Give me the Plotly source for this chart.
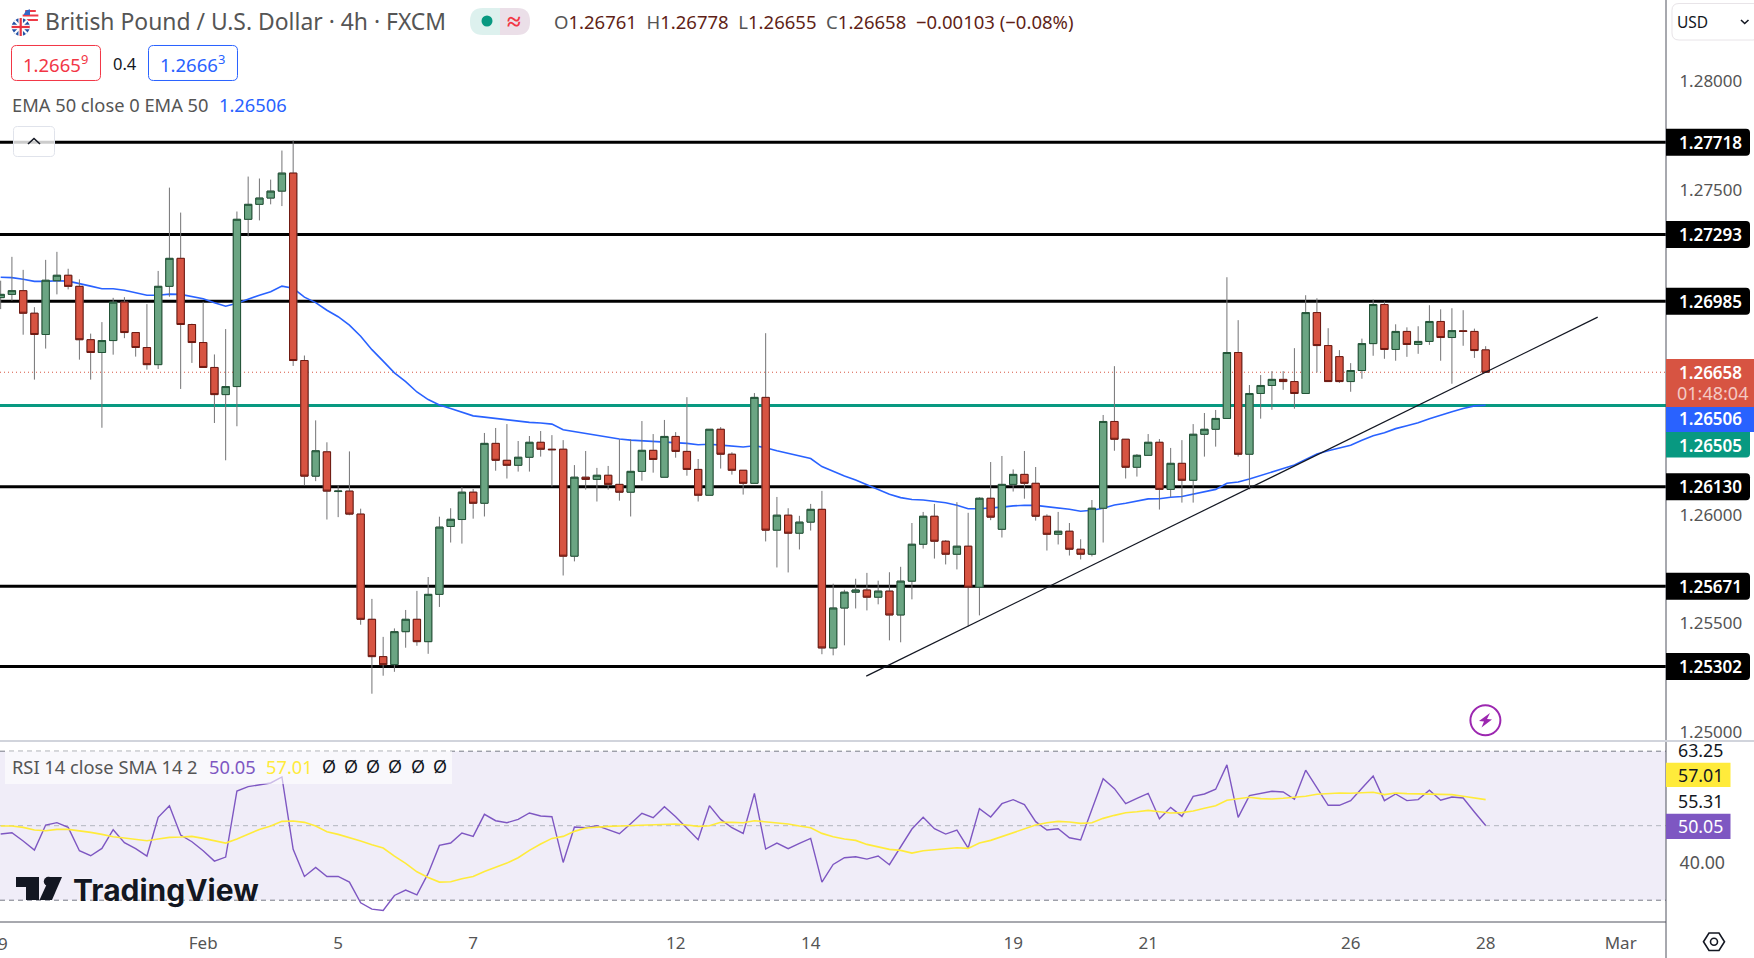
import plotly.graph_objects as go

opens = [1.27002, 1.27017, 1.27034, 1.26930, 1.26832, 1.27080, 1.27105, 1.27054, 1.26808, 1.26749, 1.26804, 1.26981, 1.26841, 1.26772, 1.26693, 1.27054, 1.27183, 1.26878, 1.26795, 1.26680,
         1.26555, 1.26592, 1.27363, 1.27432, 1.27461, 1.27493, 1.27576, 1.26712, 1.26179, 1.26291, 1.26108, 1.26110, 1.26004, 1.25519, 1.25347, 1.25310, 1.25462, 1.25519, 1.25416, 1.25634,
         1.25947, 1.25979, 1.26105, 1.26054, 1.26330, 1.26252, 1.26229, 1.26266, 1.26335, 1.26303, 1.26303, 1.25810, 1.26174, 1.26164, 1.26183, 1.26141, 1.26105, 1.26201, 1.26298, 1.26174,
         1.26362, 1.26293, 1.26210, 1.26091, 1.26395, 1.26280, 1.26206, 1.26146, 1.26542, 1.25930, 1.25999, 1.25916, 1.25967, 1.26026, 1.25387, 1.25571, 1.25644, 1.25654, 1.25621, 1.25649,
         1.25539, 1.25695, 1.25865, 1.25994, 1.25879, 1.25819, 1.25856, 1.25667, 1.26077, 1.25934, 1.26141, 1.26187, 1.26146, 1.25994, 1.25911, 1.25925, 1.25842, 1.25819, 1.26031, 1.26431,
         1.26349, 1.26220, 1.26275, 1.26335, 1.26118, 1.26238, 1.26160, 1.26372, 1.26395, 1.26445, 1.26749, 1.26280, 1.26560, 1.26597, 1.26625, 1.26615, 1.26560, 1.26933, 1.26781, 1.26730,
         1.26615, 1.26666, 1.26790, 1.26970, 1.26763, 1.26846, 1.26786, 1.26800, 1.26892, 1.26818, 1.26849, 1.26846, 1.26761]
highs = [1.27080, 1.27190, 1.27130, 1.26958, 1.27176, 1.27213, 1.27135, 1.27086, 1.26836, 1.26889, 1.27001, 1.27004, 1.26841, 1.26972, 1.27125, 1.27509, 1.27394, 1.26882, 1.26983, 1.26740,
         1.26857, 1.27399, 1.27560, 1.27551, 1.27546, 1.27680, 1.27726, 1.26735, 1.26436, 1.26335, 1.26135, 1.26293, 1.26029, 1.25613, 1.25438, 1.25477, 1.25562, 1.25650, 1.25714, 1.25992,
         1.26031, 1.26129, 1.26120, 1.26378, 1.26401, 1.26419, 1.26341, 1.26364, 1.26387, 1.26368, 1.26345, 1.26230, 1.26295, 1.26217, 1.26226, 1.26349, 1.26349, 1.26433, 1.26373, 1.26438,
         1.26382, 1.26543, 1.26258, 1.26395, 1.26405, 1.26289, 1.26206, 1.26562, 1.26838, 1.26083, 1.26031, 1.25996, 1.26051, 1.26111, 1.25683, 1.25655, 1.25706, 1.25733, 1.25697, 1.25736,
         1.25761, 1.25963, 1.26014, 1.26051, 1.25884, 1.26059, 1.26010, 1.26082, 1.26244, 1.26272, 1.26210, 1.26295, 1.26221, 1.26003, 1.26014, 1.25963, 1.25888, 1.26069, 1.26461, 1.26686,
         1.26349, 1.26281, 1.26373, 1.26350, 1.26309, 1.26345, 1.26419, 1.26470, 1.26484, 1.27096, 1.26898, 1.26599, 1.26645, 1.26663, 1.26663, 1.26769, 1.27013, 1.26999, 1.26861, 1.26760,
         1.26700, 1.26813, 1.26993, 1.26984, 1.26879, 1.26865, 1.26870, 1.26967, 1.26948, 1.26953, 1.26944, 1.26859, 1.26778]
lows = [1.26949, 1.26988, 1.26831, 1.26624, 1.26767, 1.27017, 1.27040, 1.26716, 1.26624, 1.26402, 1.26739, 1.26815, 1.26730, 1.26670, 1.26673, 1.27006, 1.26581, 1.26701, 1.26680, 1.26424,
        1.26252, 1.26409, 1.27284, 1.27358, 1.27432, 1.27424, 1.26687, 1.26137, 1.26156, 1.25979, 1.25990, 1.25999, 1.25494, 1.25176, 1.25259, 1.25277, 1.25388, 1.25397, 1.25360, 1.25576,
        1.25873, 1.25868, 1.25983, 1.25993, 1.26204, 1.26168, 1.26200, 1.26200, 1.26269, 1.26131, 1.25721, 1.25786, 1.26117, 1.26062, 1.26117, 1.26066, 1.25993, 1.26158, 1.26195, 1.26174,
        1.26264, 1.26181, 1.26062, 1.26091, 1.26214, 1.26186, 1.26094, 1.26146, 1.25878, 1.25758, 1.25735, 1.25841, 1.25928, 1.25358, 1.25353, 1.25399, 1.25569, 1.25560, 1.25588, 1.25422,
        1.25413, 1.25611, 1.25845, 1.25799, 1.25772, 1.25749, 1.25486, 1.25537, 1.25976, 1.25896, 1.26108, 1.26075, 1.25974, 1.25836, 1.25864, 1.25813, 1.25795, 1.25809, 1.25873, 1.26296,
        1.26168, 1.26177, 1.26275, 1.26025, 1.26083, 1.26057, 1.26057, 1.26269, 1.26315, 1.26445, 1.26269, 1.26118, 1.26444, 1.26485, 1.26577, 1.26490, 1.26560, 1.26657, 1.26615, 1.26609,
        1.26568, 1.26628, 1.26734, 1.26720, 1.26711, 1.26729, 1.26743, 1.26784, 1.26711, 1.26605, 1.26780, 1.26724, 1.26655]
closes = [1.27017, 1.27034, 1.26930, 1.26832, 1.27082, 1.27105, 1.27054, 1.26808, 1.26749, 1.26804, 1.26981, 1.26841, 1.26772, 1.26693, 1.27054, 1.27183, 1.26878, 1.26795, 1.26680, 1.26555,
          1.26592, 1.27363, 1.27432, 1.27461, 1.27493, 1.27576, 1.26712, 1.26179, 1.26296, 1.26110, 1.26110, 1.26004, 1.25519, 1.25347, 1.25310, 1.25462, 1.25519, 1.25416, 1.25634, 1.25944,
          1.25980, 1.26105, 1.26054, 1.26330, 1.26252, 1.26229, 1.26266, 1.26335, 1.26303, 1.26301, 1.25810, 1.26174, 1.26164, 1.26183, 1.26141, 1.26105, 1.26201, 1.26298, 1.26256, 1.26362,
          1.26293, 1.26210, 1.26091, 1.26395, 1.26280, 1.26206, 1.26146, 1.26542, 1.25930, 1.25999, 1.25916, 1.25967, 1.26026, 1.25387, 1.25571, 1.25644, 1.25654, 1.25621, 1.25649, 1.25539,
          1.25695, 1.25865, 1.25994, 1.25879, 1.25819, 1.25856, 1.25667, 1.26077, 1.25990, 1.26141, 1.26187, 1.26146, 1.25994, 1.25911, 1.25925, 1.25842, 1.25819, 1.26031, 1.26431, 1.26349,
          1.26220, 1.26275, 1.26335, 1.26118, 1.26238, 1.26160, 1.26372, 1.26395, 1.26445, 1.26749, 1.26280, 1.26560, 1.26597, 1.26625, 1.26615, 1.26560, 1.26933, 1.26781, 1.26615, 1.26615,
          1.26666, 1.26790, 1.26970, 1.26763, 1.26846, 1.26786, 1.26800, 1.26892, 1.26818, 1.26850, 1.26846, 1.26758, 1.26658]
ema50 = [1.27096, 1.27094, 1.27087, 1.27077, 1.27077, 1.27080, 1.27078, 1.27068, 1.27055, 1.27043, 1.27043, 1.27036, 1.27025, 1.27013, 1.27013, 1.27018, 1.27017, 1.27008, 1.26997, 1.26978,
         1.26962, 1.26976, 1.26995, 1.27013, 1.27029, 1.27055, 1.27045, 1.27004, 1.26979, 1.26944, 1.26914, 1.26875, 1.26824, 1.26762, 1.26709, 1.26655, 1.26615, 1.26567, 1.26532, 1.26507,
         1.26491, 1.26474, 1.26457, 1.26451, 1.26445, 1.26436, 1.26430, 1.26427, 1.26424, 1.26419, 1.26393, 1.26384, 1.26376, 1.26368, 1.26359, 1.26350, 1.26345, 1.26342, 1.26339, 1.26339,
         1.26335, 1.26330, 1.26324, 1.26326, 1.26322, 1.26318, 1.26313, 1.26319, 1.26310, 1.26296, 1.26284, 1.26270, 1.26260, 1.26223, 1.26200, 1.26180, 1.26161, 1.26138, 1.26118, 1.26095,
         1.26080, 1.26071, 1.26069, 1.26062, 1.26056, 1.26045, 1.26029, 1.26029, 1.26031, 1.26036, 1.26042, 1.26045, 1.26044, 1.26039, 1.26034, 1.26026, 1.26017, 1.26022, 1.26031, 1.26046,
         1.26054, 1.26063, 1.26074, 1.26075, 1.26082, 1.26085, 1.26095, 1.26106, 1.26118, 1.26146, 1.26152, 1.26166, 1.26181, 1.26198, 1.26214, 1.26230, 1.26256, 1.26281, 1.26296, 1.26307,
         1.26321, 1.26344, 1.26365, 1.26379, 1.26398, 1.26411, 1.26425, 1.26444, 1.26461, 1.26476, 1.26491, 1.26503, 1.26506]
rsi = [47.76, 48.12, 45.88, 43.46, 50.18, 50.81, 49.55, 43.28, 41.94, 43.91, 48.92, 45.43, 43.82, 41.85, 52.24, 55.38, 47.49, 45.70, 43.28, 40.50,
       41.58, 59.32, 60.48, 60.93, 61.47, 63.08, 43.64, 36.38, 38.80, 36.38, 36.38, 34.86, 29.30, 27.60, 27.24, 31.27, 32.71, 31.45, 37.19, 44.71,
       45.34, 48.03, 47.13, 53.05, 51.34, 50.81, 51.70, 53.41, 52.60, 52.42, 40.14, 49.64, 49.46, 50.00, 48.84, 47.85, 50.54, 53.32, 52.15, 55.11,
       52.42, 49.46, 46.24, 55.38, 51.70, 49.46, 47.94, 58.69, 43.73, 45.34, 43.82, 45.25, 46.59, 34.86, 39.61, 41.40, 41.67, 41.04, 41.85, 39.52,
       44.35, 49.10, 52.24, 49.19, 47.76, 48.84, 44.00, 54.57, 52.33, 55.91, 56.99, 55.65, 51.08, 48.84, 49.19, 46.77, 46.15, 54.21, 62.63, 59.95,
       55.91, 57.35, 58.69, 51.88, 54.93, 52.51, 57.89, 58.52, 59.78, 66.32, 52.24, 58.07, 58.70, 59.24, 59.06, 57.09, 64.89, 60.13, 55.47, 55.47,
       56.73, 60.04, 63.36, 56.73, 58.52, 56.73, 57.00, 59.51, 56.82, 57.71, 57.44, 53.68, 50.05]
rsi_sma = [49.91, 49.91, 49.55, 48.84, 48.66, 49.01, 49.01, 48.66, 48.21, 47.67, 47.04, 46.68, 46.33, 45.97, 46.42, 46.86, 46.95, 47.13, 46.59, 45.97,
           45.34, 46.42, 47.76, 49.01, 49.91, 51.16, 51.25, 50.90, 49.91, 48.39, 47.67, 46.86, 45.88, 44.89, 44.00, 41.85, 39.87, 37.63, 36.11, 34.86,
           34.95, 35.75, 36.38, 37.72, 38.80, 39.96, 41.40, 43.37, 45.07, 46.59, 47.13, 48.48, 49.37, 49.64, 49.82, 49.91, 50.00, 50.18, 50.18, 50.45,
           50.45, 50.18, 49.82, 50.00, 50.90, 50.90, 50.81, 51.34, 51.08, 50.90, 50.45, 49.91, 49.46, 47.94, 47.04, 46.42, 46.06, 44.98, 44.35, 43.64,
           43.37, 42.65, 43.28, 43.55, 43.82, 44.09, 43.91, 45.34, 46.06, 47.13, 48.21, 49.28, 50.18, 50.81, 51.16, 50.99, 50.63, 50.81, 51.97, 52.78,
           53.49, 53.76, 54.12, 53.75, 53.41, 53.50, 53.95, 54.66, 55.38, 56.82, 57.17, 57.62, 57.26, 57.17, 57.35, 57.53, 57.89, 58.43, 58.61, 58.79,
           58.70, 58.79, 58.97, 58.34, 58.79, 58.61, 58.52, 58.52, 58.34, 58.34, 57.89, 57.53, 57.01]

levels = [1.27718, 1.27293, 1.26985, 1.26130, 1.25671, 1.25302]
green_level = 1.26505
last_close = 1.26658
trend_x = [76.94, 141.96]
trend_y = [1.25257, 1.26912]
price_ticks = [1.28, 1.275, 1.26, 1.255, 1.25]
rsi_bands = [70, 50, 30]
time_tick_pos = [18, 30, 42, 60, 72, 90, 102, 120, 132, 144]
time_tick_text = ['Feb', '5', '7', '12', '14', '19', '21', '26', '28', 'Mar']

FONT = 'Noto Sans'
GREY = '#555555'
PW, PH = 1666, 922


def X(px):
    return px / PW


def Y(py):
    return 1 - py / PH


def rrect(x0, y0, x1, y1, r, fill, line=None, lw=1, corners='tl tr br bl', opacity=1):
    # rounded box in page pixels, drawn in paper coordinates
    cs = corners.split()
    p = 'M%f,%f ' % (X(x0 + (r if 'tl' in cs else 0)), Y(y0))
    p += 'L%f,%f ' % (X(x1 - (r if 'tr' in cs else 0)), Y(y0))
    if 'tr' in cs:
        p += 'Q%f,%f %f,%f ' % (X(x1), Y(y0), X(x1), Y(y0 + r))
    p += 'L%f,%f ' % (X(x1), Y(y1 - (r if 'br' in cs else 0)))
    if 'br' in cs:
        p += 'Q%f,%f %f,%f ' % (X(x1), Y(y1), X(x1 - r), Y(y1))
    p += 'L%f,%f ' % (X(x0 + (r if 'bl' in cs else 0)), Y(y1))
    if 'bl' in cs:
        p += 'Q%f,%f %f,%f ' % (X(x0), Y(y1), X(x0), Y(y1 - r))
    p += 'L%f,%f ' % (X(x0), Y(y0 + (r if 'tl' in cs else 0)))
    if 'tl' in cs:
        p += 'Q%f,%f %f,%f ' % (X(x0), Y(y0), X(x0 + r), Y(y0))
    p += 'Z'
    return dict(type='path', xref='paper', yref='paper', path=p, fillcolor=fill, opacity=opacity,
                line=dict(color=line if line else 'rgba(0,0,0,0)', width=lw if line else 0))


def poly(points, fill=None, line=None, lw=1, close=True):
    p = 'M' + ' L'.join('%f,%f' % (X(a), Y(b)) for a, b in points)
    if close:
        p += ' Z'
    return dict(type='path', xref='paper', yref='paper', path=p,
                fillcolor=fill if fill else 'rgba(0,0,0,0)',
                line=dict(color=line if line else 'rgba(0,0,0,0)', width=lw if line else 0))


def circle(cx, cy, r, fill=None, line=None, lw=1):
    return dict(type='circle', xref='paper', yref='paper', x0=X(cx - r), x1=X(cx + r), y0=Y(cy + r), y1=Y(cy - r),
                fillcolor=fill if fill else 'rgba(0,0,0,0)',
                line=dict(color=line if line else 'rgba(0,0,0,0)', width=lw if line else 0))


def label(px, py, text, size=18.3, color=GREY, anchor='left', **kw):
    return dict(xref='paper', yref='paper', x=X(px), y=Y(py), text=text, showarrow=False, xanchor=anchor, yanchor='middle',
                font=dict(family=kw.pop('family', FONT), size=size, color=color, **kw), borderpad=0, borderwidth=0)


n = list(range(len(opens)))
body_high = [max(a, b) for a, b in zip(opens, closes)]
body_low = [min(a, b) for a, b in zip(opens, closes)]

fig = go.Figure()

fig.add_trace(go.Scatter(x=n, y=ema50, mode='lines', line=dict(color='#2962ff', width=1.6), xaxis='x', yaxis='y', zorder=-1))
# wick first, grey, then the body with its dark edge on top
fig.add_trace(go.Candlestick(x=n, open=opens, high=highs, low=lows, close=closes, whiskerwidth=0, xaxis='x', yaxis='y',
                             increasing=dict(line=dict(color='#737375', width=1), fillcolor='#737375'),
                             decreasing=dict(line=dict(color='#737375', width=1), fillcolor='#737375')))
fig.add_trace(go.Candlestick(x=n, open=opens, high=body_high, low=body_low, close=closes, whiskerwidth=0, xaxis='x', yaxis='y',
                             increasing=dict(line=dict(color='#225437', width=1), fillcolor='#6ba583'),
                             decreasing=dict(line=dict(color='#6f1a12', width=1), fillcolor='#d75442')))
fig.add_trace(go.Scatter(x=n, y=rsi, mode='lines', line=dict(color='#7e57c2', width=1.4), xaxis='x', yaxis='y2'))
fig.add_trace(go.Scatter(x=n, y=rsi_sma, mode='lines', line=dict(color='#ffeb3b', width=1.6), xaxis='x', yaxis='y2'))

shapes = []
shapes.append(dict(type='rect', xref='paper', x0=0, x1=1, yref='y2', y0=rsi_bands[2], y1=rsi_bands[0], layer='below',
                   fillcolor='#f0edf8', line=dict(width=0)))
for b in rsi_bands:
    shapes.append(dict(type='line', xref='paper', x0=0, x1=1, yref='y2', y0=b, y1=b, layer='below',
                       line=dict(color='#b2b5be' if b == 50 else '#787b86', width=1, dash='5px,4px')))
for lv in levels:
    shapes.append(dict(type='line', xref='paper', x0=0, x1=1, yref='y', y0=lv, y1=lv, layer='below',
                       line=dict(color='black', width=3)))
shapes.append(dict(type='line', xref='paper', x0=0, x1=1, yref='y', y0=green_level, y1=green_level, layer='below',
                   line=dict(color='#089981', width=3)))
shapes.append(dict(type='line', xref='paper', x0=0, x1=1, yref='y', y0=last_close, y1=last_close, layer='below',
                   line=dict(color='#d75442', width=1, dash='1px,3px')))
shapes.append(dict(type='line', xref='x', yref='y', x0=trend_x[0], x1=trend_x[1], y0=trend_y[0], y1=trend_y[1],
                   line=dict(color='#131722', width=1.2)))

# frame
shapes.append(poly([(1666, 0), (1666, 958)], line='#50535e', lw=1, close=False))
shapes.append(poly([(0, 922), (1666, 922)], line='#50535e', lw=1, close=False))
shapes.append(poly([(0, 741), (1754, 741)], line='#d1d4dc', lw=2, close=False))

# header
shapes.append(rrect(11.5, 45.5, 100.5, 80.5, 5, 'white', '#f23645', 1))
shapes.append(rrect(148.5, 45.5, 237.5, 80.5, 5, 'white', '#2962ff', 1))
shapes.append(rrect(470, 8, 500, 35, 13, '#ddf1ee', corners='tl bl'))
shapes.append(rrect(500, 8, 530, 35, 13, '#ebdfe8', corners='tr br'))
shapes.append(circle(487, 21, 5.5, '#089981'))
shapes.append(rrect(1672, 3.5, 1760, 40, 7, 'white', '#e8e4e8', 1))
shapes.append(poly([(1741, 20), (1744.7, 23.5), (1748.5, 20)], line='#131722', lw=1.6, close=False))
shapes.append(rrect(13.5, 126.5, 54.5, 156.5, 4, 'rgba(255,255,255,0.8)', '#e0e3eb', 1))
shapes.append(poly([(28, 144), (34, 138.5), (40, 144)], line='#131722', lw=1.6, close=False))

# flags
shapes.append(circle(30.5, 17, 8, 'white'))
for sy in (11, 15.5, 20):
    half = (64 - (sy - 17) ** 2) ** 0.5
    shapes.append(poly([(30.5 - half, sy), (30.5 + half, sy)], line='#ee3b47', lw=2, close=False))
shapes.append(poly([(23.5, 15), (30, 15), (30, 9.2), (26, 10.5)], fill='#3766c6'))
shapes.append(circle(20.7, 27, 10, 'white'))
shapes.append(circle(20.7, 27, 9, '#2450a4'))
shapes.append(poly([(14.5, 20.5), (27, 33.5)], line='white', lw=2.2, close=False))
shapes.append(poly([(27, 20.5), (14.5, 33.5)], line='white', lw=2.2, close=False))
shapes.append(poly([(11.7, 27), (29.7, 27)], line='white', lw=4.5, close=False))
shapes.append(poly([(20.7, 18), (20.7, 36)], line='white', lw=4.5, close=False))
shapes.append(poly([(11.7, 27), (29.7, 27)], line='#e8333f', lw=2.2, close=False))
shapes.append(poly([(20.7, 18), (20.7, 36)], line='#e8333f', lw=2.2, close=False))

# price tags follow the axis
tag_path = 'M0,-13.5 L80,-13.5 Q84,-13.5 84,-9.5 L84,9.5 Q84,13.5 80,13.5 L0,13.5 Z'
for lv in levels:
    shapes.append(dict(type='path', xref='paper', xsizemode='pixel', xanchor=1, yref='y', ysizemode='pixel', yanchor=lv,
                       path=tag_path, fillcolor='black', line=dict(width=0)))
shapes.append(dict(type='rect', xref='paper', yref='paper', x0=1, x1=X(1754), y0=Y(407), y1=Y(359), fillcolor='#d75442', line=dict(width=0)))
shapes.append(dict(type='rect', xref='paper', yref='paper', x0=1, x1=X(1754), y0=Y(432), y1=Y(407), fillcolor='#2962ff', line=dict(width=0)))
shapes.append(rrect(1666, 432, 1750, 457.5, 4, '#089981', corners='br'))
shapes.append(dict(type='rect', xref='paper', yref='paper', x0=1, x1=X(1730.5), y0=Y(787), y1=Y(762.7), fillcolor='#ffeb3b', line=dict(width=0)))
shapes.append(dict(type='rect', xref='paper', yref='paper', x0=1, x1=X(1730.5), y0=Y(839), y1=Y(813.7), fillcolor='#7e57c2', line=dict(width=0)))

# lightning mark
shapes.append(circle(1485.4, 720.3, 15, 'white', '#9c27b0', 2))
shapes.append(poly([(1490, 713), (1479, 721), (1484, 721.5), (1481.5, 727.5), (1492, 719.5), (1487, 719)], fill='#9c27b0'))

# settings mark
shapes.append(poly([(1703.5, 941.7), (1709, 933), (1719, 933), (1724.5, 941.7), (1719, 950.5), (1709, 950.5)], line='#131722', lw=1.6))
shapes.append(circle(1714, 941.7, 3.5, None, '#131722', 1.6))

# RSI legend box and logo
shapes.append(dict(type='rect', xref='paper', yref='paper', x0=X(5), x1=X(452), y0=Y(784), y1=Y(751),
                   fillcolor='rgba(255,255,255,0.6)', line=dict(width=0)))
shapes.append(poly([(16, 877), (39, 877), (39, 900), (26, 900), (26, 887), (16, 887)], fill='#131722'))
shapes.append(circle(48.5, 881.5, 4.7, '#131722'))
shapes.append(poly([(50, 877), (62, 877), (52, 900), (39.5, 900)], fill='#131722'))

annotations = [
    label(45, 21, 'British Pound / U.S. Dollar · 4h · FXCM', size=22.9),
    label(513.5, 20, '≈', size=25, color='#f23645', anchor='center', weight=700),
    label(553.5, 21, ''.join('<span style="color:#555555">%s</span><span style="color:#5f1f17">%s</span>' % (a, b) for a, b in
                             [('O', '1.26761  '), ('H', '1.26778  '), ('L', '1.26655  '), ('C', '1.26658  −0.00103 (−0.08%)')]), size=18.5),
    label(23, 63, '1.2665<sup>9</sup>', size=18.5, color='#f23645'),
    label(125, 63, '0.4', size=16.5, color='#131722', anchor='center'),
    label(159.5, 63, '1.2666<sup>3</sup>', size=18.5, color='#2962ff'),
    label(12, 105, 'EMA 50 close 0 EMA 50'),
    label(219.5, 105, '1.26506'),
    label(1677, 22, 'USD', size=15.5, color='#131722'),
    label(12, 766, 'RSI 14 close SMA 14 2'),
    label(209, 766, '50.05', color='#7e57c2'),
    label(266, 766, '57.01', color='#ffeb3b'),
    label(72.5, 889.5, 'TradingView', size=30, color='#131722', family='Inter', weight=700, shadow='0 0 3px white'),
    label(3, 943, '9', size=17),
    label(1710, 373, '1.26658', size=17, color='white', anchor='center', weight=600),
    label(1712, 393.5, '01:48:04', size=18, color='#f4c9c3', anchor='center'),
    label(1710, 419, '1.26506', size=17, color='white', anchor='center', weight=600),
    label(1710, 445, '1.26505', size=17, color='white', anchor='center', weight=600),
    label(1678, 749.5, '63.25', size=17.8, color='#131722'),
    label(1678, 775, '57.01', size=17.8, color='#131722'),
    label(1678, 800.5, '55.31', size=17.8, color='#131722'),
    label(1678, 826, '50.05', size=17.8, color='white'),
]
annotations[7]['font']['color'] = '#2962ff'
annotations[13]['xanchor'] = 'center'
for cx in (329, 351.3, 373, 395.3, 417.5, 439.7):
    annotations.append(label(cx, 766, 'Ø', size=18, color='#131722', anchor='center'))
for lv in levels:
    annotations.append(dict(xref='paper', x=X(1710), yref='y', y=lv, text='%.5f' % lv, showarrow=False, xanchor='center', yanchor='middle',
                            font=dict(family=FONT, size=17, color='white', weight=600)))

fig.update_layout(
    width=1754, height=958, autosize=False,
    margin=dict(l=0, r=88, t=0, b=36),
    paper_bgcolor='white', plot_bgcolor='white',
    showlegend=False, boxgap=0.1, boxgroupgap=0.28, hovermode=False,
    font=dict(family=FONT, size=16, color=GREY),
    xaxis=dict(anchor='y2', domain=[0, 1], range=[-0.06, 148.03], tickmode='array', tickvals=time_tick_pos, ticktext=time_tick_text,
               showgrid=False, zeroline=False, showline=False, ticks='outside', ticklen=6, tickcolor='rgba(0,0,0,0)',
               tickfont=dict(size=17, color=GREY), rangeslider=dict(visible=False)),
    yaxis=dict(anchor='x', domain=[(PH - 741) / PH, 1], range=[1.24958, 1.28374], side='right', tickmode='array', tickvals=price_ticks,
               tickformat='.5f', showgrid=False, zeroline=False, showline=False, ticks='outside', ticklen=9, tickcolor='rgba(0,0,0,0)',
               tickfont=dict(size=17, color=GREY)),
    yaxis2=dict(anchor='x', domain=[0, (PH - 743) / PH], range=[24.15, 72.2], side='right', tickmode='array', tickvals=[40],
                tickformat='.2f', showgrid=False, zeroline=False, showline=False, ticks='outside', ticklen=9, tickcolor='rgba(0,0,0,0)',
                tickfont=dict(size=17.8, color=GREY)),
    shapes=shapes, annotations=annotations,
)

fig.write_html("out.html", config=dict(displayModeBar=False),
               post_script="document.body.style.margin='0';document.body.style.overflow='hidden';")
